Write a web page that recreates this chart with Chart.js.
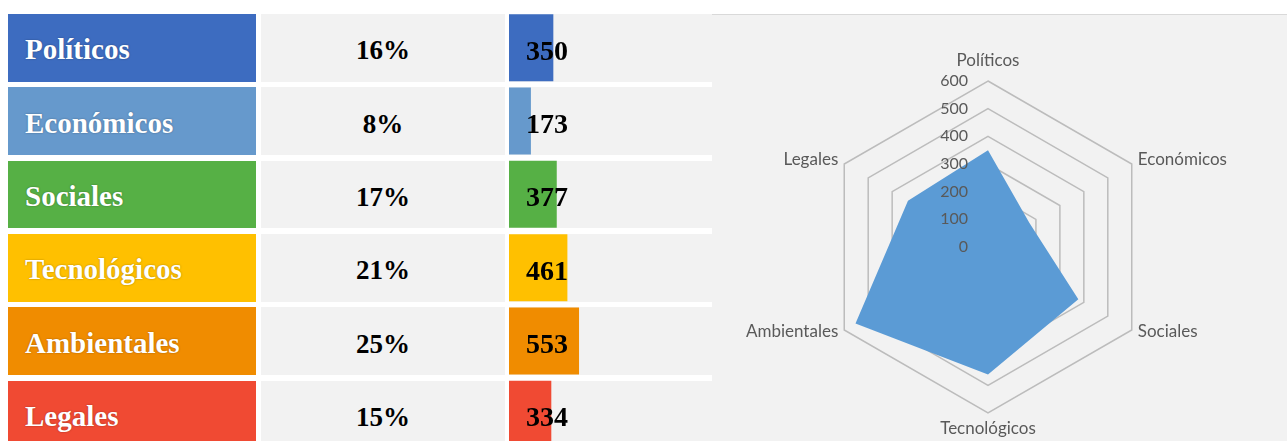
<!DOCTYPE html>
<html><head><meta charset="utf-8">
<script src="https://cdn.jsdelivr.net/npm/chart.js@4.4.1/dist/chart.umd.min.js"></script>
<style>
html,body{margin:0;padding:0;background:#fff;width:1287px;height:441px;overflow:hidden;position:relative;}
.cell{position:absolute;display:flex;align-items:center;box-sizing:border-box;font-family:"Liberation Serif","Times New Roman",serif;font-weight:bold;}
.lab{color:#fff;font-size:29px;padding-left:17px;padding-top:4px;text-shadow:0 0 2px rgba(0,0,0,0.35);}
.pct{background:#f2f2f2;color:#000;font-size:27px;justify-content:center;padding-top:6px;}
.bg3{background:#f2f2f2;}
#panel{position:absolute;left:712px;top:14px;width:575px;height:427px;background:#f2f2f2;border-top:1px solid #d9d9d9;box-sizing:border-box;}
canvas{position:absolute;}
</style></head><body>
<div id="panel"></div>
<div id="table"></div>
<canvas id="bars" width="76" height="440" style="left:509px;top:11px;"></canvas>
<canvas id="radar" width="560" height="420" style="left:708px;top:37px;"></canvas>
<script>
const categories = ["Políticos","Económicos","Sociales","Tecnológicos","Ambientales","Legales"];
const values = [350,173,377,461,553,334];
const percentLabels = ["16%","8%","17%","21%","25%","15%"];
const colors = ["#3D6CC0","#6699CC","#56B045","#FFC000","#F08C00","#F04A33"];
const radarTicks = [0,100,200,300,400,500,600];

// table cells (HTML)
const table = document.getElementById('table');
const pitch = 440/6;
categories.forEach((c,i)=>{
  const top = 14 + i*pitch;
  const h = 67.5;
  const a = document.createElement('div');
  a.className='cell lab'; a.style.cssText=`left:8px;top:${top}px;width:248px;height:${h}px;background:${colors[i]};`;
  a.textContent=c; table.appendChild(a);
  const b = document.createElement('div');
  b.className='cell pct'; b.style.cssText=`left:261px;top:${top}px;width:244px;height:${h}px;`;
  b.textContent=percentLabels[i]; table.appendChild(b);
  const d = document.createElement('div');
  d.className='cell bg3'; d.style.cssText=`left:509px;top:${top}px;width:203px;height:${h}px;`;
  table.appendChild(d);
});

const valueLabels = {
  id:'valueLabels',
  afterDatasetsDraw(chart){
    const ctx = chart.ctx, meta = chart.getDatasetMeta(0);
    const cx = (chart.chartArea.left+chart.chartArea.right)/2;
    ctx.save();
    ctx.font = 'bold 28px "Liberation Serif", serif';
    ctx.fillStyle = '#000'; ctx.textAlign='center'; ctx.textBaseline='alphabetic';
    meta.data.forEach((bar,i)=>ctx.fillText(String(values[i]), cx, bar.y+12));
    ctx.restore();
  }
};

new Chart(document.getElementById('bars'), {
  type:'bar',
  data:{labels:categories, datasets:[{data:values, backgroundColor:colors, borderWidth:0, barPercentage:0.914, categoryPercentage:1}]},
  options:{
    indexAxis:'y', responsive:false, animation:false,
    layout:{padding:0},
    plugins:{legend:{display:false}, tooltip:{enabled:false}},
    scales:{
      x:{display:false, min:0, max:600},
      y:{display:false}
    }
  },
  plugins:[valueLabels]
});

const radarText = {
  id:'radarText',
  afterDatasetsDraw(chart){
    const s = chart.scales.r, ctx = chart.ctx;
    ctx.save();
    ctx.font = '16px Lato, "Open Sans", sans-serif';
    ctx.fillStyle = '#595959'; ctx.textAlign='right'; ctx.textBaseline='middle';
    radarTicks.forEach(v=>{
      const d = s.getDistanceFromCenterForValue(v);
      ctx.fillText(String(v), s.xCenter-20, s.yCenter-d);
    });
    ctx.font = '17px Lato, "Open Sans", sans-serif';
    categories.forEach((c,i)=>{
      const p = s.getPointPosition(i, s.drawingArea);
      const dx = p.x - s.xCenter, dy = p.y - s.yCenter;
      let x = p.x, y = p.y;
      if (Math.abs(dx) < 1) {
        ctx.textAlign = 'center';
        y = dy < 0 ? p.y - 20 : p.y + 16;
      } else {
        ctx.textAlign = dx > 0 ? 'left' : 'right';
        x = p.x + (dx > 0 ? 6 : -6);
        y = dy < 0 ? p.y - 4 : p.y + 2;
      }
      ctx.fillText(c, x, y);
    });
    ctx.restore();
  }
};

new Chart(document.getElementById('radar'), {
  type:'radar',
  data:{labels:categories, datasets:[{data:values, backgroundColor:'#5B9BD5', borderWidth:0, pointRadius:0, fill:true}]},
  options:{
    responsive:false, animation:false,
    layout:{padding:{top:44, bottom:44, left:0, right:0}},
    plugins:{legend:{display:false}, tooltip:{enabled:false}},
    scales:{
      r:{
        min:radarTicks[0], max:radarTicks[radarTicks.length-1],
        afterBuildTicks:(s)=>{ s.ticks = radarTicks.map(v=>({value:v})); },
        ticks:{display:false},
        grid:{color:'#bcbcbc', lineWidth:1.5},
        angleLines:{display:false},
        pointLabels:{display:false}
      }
    }
  },
  plugins:[radarText]
});
</script>
</body></html>
